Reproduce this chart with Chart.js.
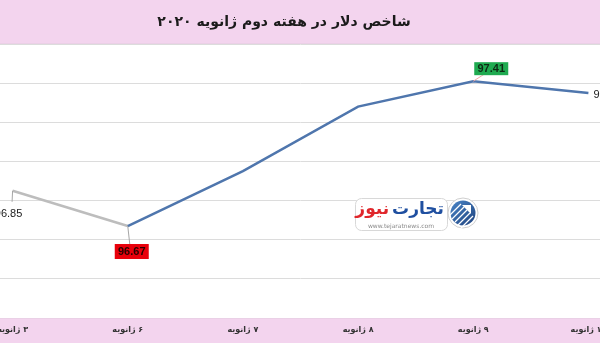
<!DOCTYPE html>
<html>
<head>
<meta charset="utf-8">
<script src="https://cdn.jsdelivr.net/npm/chart.js@4.4.0/dist/chart.umd.min.js"></script>
<style>
html,body{margin:0;padding:0;background:#fff;overflow:hidden;width:600px;height:343px;}
#wrap{position:absolute;left:-45px;top:0;width:691px;height:343px;}
</style>
</head>
<body>
<div id="wrap"><canvas id="chart" dir="rtl"></canvas></div>
<script>
const title = 'شاخص دلار در هفته دوم ژانویه ۲۰۲۰';
const days = ['۳ ژانویه', '۶ ژانویه', '۷ ژانویه', '۸ ژانویه', '۹ ژانویه', '۱۰ ژانویه'];
const dollarIndex = [96.85, 96.67, 96.95, 97.28, 97.41, 97.35];
const yMin = 96.2;
const yMax = 97.6;
const yStep = 0.2;

const PINK = '#f3d4ee';
const OFFSET = 45; // canvas starts 45px left of the page, the picture is cropped

function box(ctx, x, y, w, h, r) {
  ctx.beginPath();
  ctx.moveTo(x + r, y);
  ctx.lineTo(x + w - r, y);
  ctx.arcTo(x + w, y, x + w, y + r, r);
  ctx.lineTo(x + w, y + h - r);
  ctx.arcTo(x + w, y + h, x + w - r, y + h, r);
  ctx.lineTo(x + r, y + h);
  ctx.arcTo(x, y + h, x, y + h - r, r);
  ctx.lineTo(x, y + r);
  ctx.arcTo(x, y, x + r, y, r);
  ctx.closePath();
}

const frame = {
  id: 'frame',
  beforeDraw(chart) {
    const {ctx, width, height, chartArea} = chart;
    ctx.save();
    ctx.fillStyle = '#fff';
    ctx.fillRect(0, 0, width, height);
    ctx.fillStyle = PINK;
    ctx.fillRect(0, 0, width, chartArea.top);
    ctx.fillRect(0, chartArea.bottom, width, height - chartArea.bottom);
    ctx.fillStyle = '#ead0e6';
    ctx.fillRect(0, chartArea.top - 1, width, 1);
    ctx.fillRect(0, chartArea.bottom, width, 1);
    ctx.font = 'bold 14px "DejaVu Sans"';
    ctx.fillStyle = '#1b1b1b';
    ctx.textAlign = 'center';
    ctx.textBaseline = 'middle';
    ctx.fillText(title, OFFSET + 284, 22);
    ctx.restore();
  }
};

const logo = {
  id: 'logo',
  beforeDatasetsDraw(chart) {
    const ctx = chart.ctx;
    const x0 = OFFSET;
    ctx.save();
    ctx.fillStyle = '#fff';
    ctx.strokeStyle = '#d8d8d8';
    ctx.lineWidth = 1;
    box(ctx, x0 + 355.5, 198.5, 92, 32, 6);
    ctx.fill();
    ctx.stroke();

    // round icon
    const g = ctx.createLinearGradient(x0 + 450, 200, x0 + 476, 228);
    g.addColorStop(0, '#4a86c8');
    g.addColorStop(1, '#1d3f7a');
    ctx.beginPath();
    ctx.arc(x0 + 463, 213, 15, 0, Math.PI * 2);
    ctx.fillStyle = '#fff';
    ctx.fill();
    ctx.strokeStyle = '#cfcfcf';
    ctx.stroke();
    ctx.beginPath();
    ctx.arc(x0 + 463, 213, 12.5, 0, Math.PI * 2);
    ctx.fillStyle = g;
    ctx.fill();
    ctx.strokeStyle = '#fff';
    ctx.lineWidth = 1.2;
    for (let k = -2; k <= 2; k++) {
      ctx.beginPath();
      ctx.moveTo(x0 + 455 + k * 3, 222 + k * 3);
      ctx.lineTo(x0 + 467 + k * 3, 210 + k * 3);
      ctx.stroke();
    }
    ctx.fillStyle = '#fff';
    ctx.beginPath();
    ctx.moveTo(x0 + 471, 205);
    ctx.lineTo(x0 + 471, 214);
    ctx.lineTo(x0 + 462, 205);
    ctx.closePath();
    ctx.fill();

    ctx.font = 'bold 17px "DejaVu Sans"';
    ctx.textBaseline = 'middle';
    ctx.textAlign = 'right';
    ctx.fillStyle = '#1f4fa0';
    ctx.fillText('تجارت', x0 + 444, 210);
    const w = ctx.measureText('تجارت').width;
    ctx.fillStyle = '#e0262b';
    ctx.fillText('نیوز', x0 + 444 - w - 3, 210);
    ctx.font = '6px "DejaVu Sans"';
    ctx.fillStyle = '#8a8a8a';
    ctx.textAlign = 'center';
    ctx.fillText('www.tejaratnews.com', x0 + 401, 226);
    ctx.restore();
  }
};

const valueLabels = {
  id: 'valueLabels',
  afterDatasetsDraw(chart) {
    const ctx = chart.ctx;
    const pts = chart.getDatasetMeta(0).data;
    const data = chart.data.datasets[0].data;
    const hi = data.indexOf(Math.max(...data));
    const lo = data.indexOf(Math.min(...data));
    const last = data.length - 1;
    ctx.save();
    ctx.textBaseline = 'middle';
    ctx.lineWidth = 1;
    pts.forEach((p, i) => {
      const txt = data[i].toFixed(2);
      if (i === lo) {
        ctx.strokeStyle = '#a6a6a6';
        ctx.beginPath();
        ctx.moveTo(p.x, p.y);
        ctx.lineTo(p.x + 2, p.y + 18);
        ctx.stroke();
        ctx.fillStyle = '#e8000b';
        ctx.fillRect(p.x - 13, p.y + 18, 34, 15);
        ctx.fillStyle = '#2a0000';
        ctx.font = 'bold 11px "Liberation Sans"';
        ctx.textAlign = 'center';
        ctx.fillText(txt, p.x + 4, p.y + 26);
      } else if (i === hi) {
        ctx.strokeStyle = '#f2a9a9';
        ctx.beginPath();
        ctx.moveTo(p.x, p.y);
        ctx.lineTo(p.x + 11, p.y - 7);
        ctx.stroke();
        ctx.fillStyle = '#1faa50';
        ctx.fillRect(p.x + 1, p.y - 19, 34, 13);
        ctx.fillStyle = '#0d2a14';
        ctx.font = 'bold 11px "Liberation Sans"';
        ctx.textAlign = 'center';
        ctx.fillText(txt, p.x + 18, p.y - 12);
      } else if (i === 0) {
        ctx.strokeStyle = '#a6a6a6';
        ctx.beginPath();
        ctx.moveTo(p.x, p.y);
        ctx.lineTo(p.x - 0.5, p.y + 11);
        ctx.stroke();
        ctx.fillStyle = '#1b1b1b';
        ctx.font = '11px "Liberation Sans"';
        ctx.textAlign = 'center';
        ctx.fillText(txt, p.x - 4, p.y + 23);
      } else if (i === last) {
        ctx.fillStyle = '#1b1b1b';
        ctx.font = '11px "Liberation Sans"';
        ctx.textAlign = 'left';
        ctx.fillText(txt, p.x + 5, p.y + 2);
      }
    });
    ctx.restore();
  }
};

new Chart(document.getElementById('chart'), {
  type: 'line',
  data: {
    labels: days,
    datasets: [{
      data: dollarIndex,
      borderColor: '#4f76ad',
      borderWidth: 2.5,
      pointRadius: 0,
      tension: 0,
      segment: {
        borderColor: c => c.p0DataIndex === 0 ? '#bdbdbd' : '#4f76ad'
      }
    }]
  },
  options: {
    responsive: true,
    maintainAspectRatio: false,
    animation: false,
    devicePixelRatio: 1,
    layout: {padding: {top: 44, left: 0, right: 0, bottom: 0}},
    plugins: {
      legend: {display: false},
      title: {display: false},
      tooltip: {enabled: false}
    },
    scales: {
      x: {
        offset: true,
        grid: {display: false, drawTicks: false},
        border: {display: false},
        ticks: {
          padding: 7,
          color: '#333',
          font: {family: 'DejaVu Sans', size: 8, weight: 'bold'},
          maxRotation: 0,
          autoSkip: false
        },
        afterFit: s => { s.height = 25; }
      },
      y: {
        min: yMin,
        max: yMax,
        ticks: {display: false, stepSize: yStep},
        grid: {
          drawTicks: false,
          color: c => (c.index === 0 || c.value >= yMax - 0.01) ? 'rgba(0,0,0,0)' : '#dcdcdc'
        },
        border: {display: false},
        afterFit: s => { s.width = 0; }
      }
    }
  },
  plugins: [frame, logo, valueLabels]
});
</script>
</body>
</html>
